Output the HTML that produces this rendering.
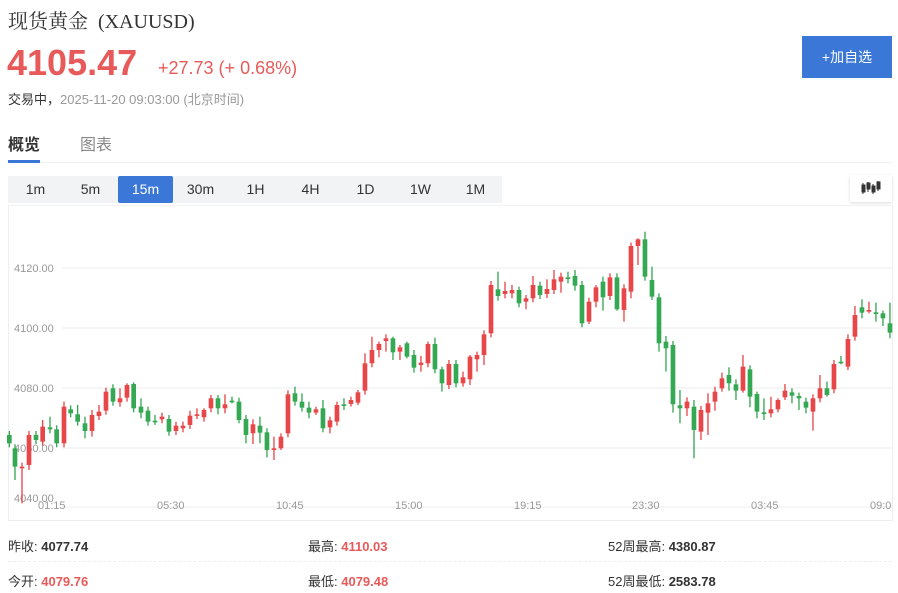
<!DOCTYPE html>
<html><head><meta charset="utf-8"><style>
body{margin:0;width:898px;height:593px;background:#fff;font-family:"Liberation Sans","Noto Sans CJK SC",sans-serif;position:relative;overflow:hidden}
.a{position:absolute;white-space:nowrap}
.tab{position:absolute;top:176px;height:27px;line-height:27px;font-size:14px;color:#333;text-align:center;width:55px}
</style></head><body>
<div class="a" style="left:8px;top:5px;font-size:20px;color:#333;font-family:'Liberation Serif','Noto Serif CJK SC',serif">现货黄金 &nbsp;(XAUUSD)</div>
<div class="a" style="left:7px;top:42px;font-size:36px;font-weight:bold;color:#e85a5a">4105.47</div>
<div class="a" style="left:158px;top:58px;font-size:18px;color:#e85a5a">+27.73 (+ 0.68%)</div>
<div class="a" style="left:8px;top:89px;font-size:13px;color:#333">交易中，<span style="color:#999">2025-11-20 09:03:00 (北京时间)</span></div>
<div class="a" style="left:802px;top:36px;width:90px;height:42px;background:#3a77d6;color:#fff;font-size:14px;line-height:42px;text-align:center">+加自选</div>
<div class="a" style="left:8px;top:131px;font-size:16px;font-weight:bold;color:#333">概览</div>
<div class="a" style="left:80px;top:131px;font-size:16px;color:#888">图表</div>
<div class="a" style="left:8px;top:160px;width:32px;height:3px;background:#3a77d6"></div>
<div class="a" style="left:40px;top:162px;width:852px;height:1px;background:#f0f0f0"></div>
<div class="a" style="left:8px;top:176px;width:494px;height:27px;background:#f2f3f5"></div>
<div class="tab" style="left:8px">1m</div><div class="tab" style="left:63px">5m</div>
<div class="tab" style="left:118px;background:#3a77d6;color:#fff;border-radius:2px">15m</div>
<div class="tab" style="left:173px">30m</div><div class="tab" style="left:228px">1H</div><div class="tab" style="left:283px">4H</div><div class="tab" style="left:338px">1D</div><div class="tab" style="left:393px">1W</div><div class="tab" style="left:448px">1M</div>
<div class="a" style="left:850px;top:175px;width:42px;height:27px;box-shadow:0 1px 3px rgba(0,0,0,.15);background:#fff"></div>
<svg class="a" style="left:860px;top:180px" width="22" height="16"><g fill="#333" stroke="#333"><line x1="3" y1="3" x2="3" y2="14"/><rect x="2" y="5" width="3" height="7"/><line x1="8" y1="2" x2="8" y2="12"/><rect x="7" y="3" width="3" height="6"/><line x1="13" y1="4" x2="13" y2="14"/><rect x="12" y="6" width="3" height="6"/><line x1="18" y1="1" x2="18" y2="11"/><rect x="17" y="2" width="3" height="7"/></g></svg>
<div class="a" style="left:8px;top:205px;width:883px;height:314px;border:1px solid #eee;border-top:1px solid #f2f2f2"></div>
<svg class="a" style="left:0;top:0" width="898" height="593" id="c">
<g stroke="#ececec"><line x1="62" y1="268" x2="892" y2="268"/><line x1="62" y1="328" x2="892" y2="328"/><line x1="62" y1="388" x2="892" y2="388"/><line x1="62" y1="448" x2="892" y2="448"/><line x1="62" y1="507" x2="892" y2="507"/></g>
<g font-size="11" fill="#999" font-family="Liberation Sans,sans-serif"><text x="14" y="272">4120.00</text><text x="14" y="332">4100.00</text><text x="14" y="392">4080.00</text><text x="14" y="452">4060.00</text><text x="14" y="502">4040.00</text>
<text x="38" y="509">01:15</text><text x="157" y="509">05:30</text><text x="276" y="509">10:45</text><text x="395" y="509">15:00</text><text x="514" y="509">19:15</text><text x="632" y="509">23:30</text><text x="751" y="509">03:45</text><text x="870" y="509">09:0</text></g>
<g id="L" transform="translate(0,220) scale(0.3333)"></g>
<g id="R" transform="translate(450,220) scale(0.3333)"></g>
</svg>
<div class="a" style="left:8px;top:536px;font-size:13px;color:#333">昨收: <b>4077.74</b></div>
<div class="a" style="left:308px;top:536px;font-size:13px;color:#333">最高: <b style="color:#e85a5a">4110.03</b></div>
<div class="a" style="left:608px;top:536px;font-size:13px;color:#333">52周最高: <b>4380.87</b></div>
<div class="a" style="left:8px;top:561px;width:884px;border-top:1px dashed #eee"></div>
<div class="a" style="left:8px;top:571px;font-size:13px;color:#333">今开: <b style="color:#e85a5a">4079.76</b></div>
<div class="a" style="left:308px;top:571px;font-size:13px;color:#333">最低: <b style="color:#e85a5a">4079.48</b></div>
<div class="a" style="left:608px;top:571px;font-size:13px;color:#333">52周最低: <b>2583.78</b></div>
<script>
var L=[[28,645,670,'g'],[45,685,740,'g',0,780],[66,740,745,'r',0,850],[87,645,735,'r',0,750],[108,645,660,'g'],[128,620,665,'r',600],[150,622,628,'g',590],[170,628,670,'g'],[192,560,670,'r',545],[212,568,580,'g'],[233,583,605,'g',555],[255,610,633,'g',590,655],[276,585,633,'r',570,650],[297,575,588,'r',555],[318,515,572,'r'],[339,505,545,'g'],[360,535,547,'r',505,560],[381,495,533,'r',490],[401,492,565,'g',487],[423,560,578,'g',535,595],[444,572,605,'g'],[465,602,604,'g',585,615],[486,590,598,'r',578],[507,597,635,'g'],[528,617,633,'r'],[549,617,625,'r'],[570,587,615,'r',572],[591,583,585,'r',565],[612,570,592,'r',565,605],[633,535,565,'r',525],[654,535,565,'g',525,583],[675,553,565,'r',523,580],[696,542,545,'g',530,550],[717,545,600,'g',0,610],[738,597,645,'g',0,670],[759,613,640,'r',598,672],[780,617,638,'g',590,670],[801,637,690,'g',0,712],[822,685,690,'r',650,720],[843,650,685,'r',640,690],[864,523,640,'r'],[885,520,545,'g',500],[906,545,563,'g',520,575],[927,563,578,'g',545,595],[948,568,578,'r',560,585],[969,565,625,'g',540],[990,601,622,'r',590,640],[1011,555,605,'r',545],[1032,553,555,'g',535,570],[1053,540,552,'r',530,560],[1074,517,548,'r',510,555],[1095,430,512,'r',400],[1116,390,430,'r',350],[1137,372,390,'r',365,412],[1158,355,363,'r',343,395],[1179,355,397,'g',350,420],[1200,382,395,'r',375,420],[1221,370,410,'g',365,415],[1242,405,443,'g',390,458],[1263,428,435,'r',408,455],[1284,372,430,'r',365],[1305,372,448,'g',353],[1326,448,490,'g',440,515],[1347,432,495,'r']];
var R=[[18,432,490,'g'],[39,472,490,'r',455,500],[60,410,478,'r',405,495],[81,405,418,'r',395,455],[102,343,405,'r',0,435],[123,195,340,'r'],[144,208,228,'g',155,242],[165,213,222,'r',185,235],[186,210,220,'r',195,235],[207,210,250,'g',200,262],[228,235,245,'r',225,268],[249,195,235,'r',168],[270,197,225,'g'],[291,207,222,'r',178],[312,178,210,'r',150],[333,170,185,'r',0,218],[354,172,174,'g',155,190],[375,168,197,'g',150,212],[396,195,310,'g'],[417,245,305,'r',0,312],[438,202,245,'r',195,262],[459,185,232,'g',170,272],[480,172,228,'r',160],[501,172,268,'g',160,272],[522,205,270,'r',0,305],[543,78,215,'r',68,235],[564,58,78,'r',55,135],[585,58,170,'g',35],[606,180,230,'g',140,240],[627,232,370,'g',0,395],[648,365,385,'g',348,455],[669,375,553,'g',0,578],[690,556,565,'g',510,610],[711,545,565,'r',532,588],[732,560,630,'g',540,715],[753,570,635,'r',0,660],[774,550,578,'r',520,645],[795,515,545,'r',500,572],[816,475,505,'r',458,515],[837,465,490,'g',442,512],[858,493,512,'g',478,540],[879,440,512,'r',405,518],[900,448,530,'g',0,562],[921,522,575,'g',515,595],[942,577,579,'g',535,600],[963,568,580,'r',530],[984,540,568,'r',535,577],[1005,512,532,'r',492,540],[1026,517,527,'g',505,550],[1047,528,535,'g',518,570],[1068,545,563,'g',0,580],[1089,535,575,'r',0,632],[1110,505,535,'r',465],[1131,505,525,'g',485,530],[1152,432,508,'r',420],[1173,425,430,'g',408,433],[1194,357,440,'r',343,450],[1215,285,350,'r',258],[1236,262,278,'g',238,295],[1257,270,275,'r',245,280],[1278,277,279,'g',248,305],[1299,280,295,'g',272,318],[1320,310,338,'g',248,355]];
function draw(id,d){var s='';d.forEach(function(c){var col=c[3]=='r'?'#e8474a':'#35a853';var wt=c[4]||c[1]-12,wb=c[5]||c[2]+12;var h=Math.max(c[2]-c[1],5);
s+='<line x1="'+c[0]+'" x2="'+c[0]+'" y1="'+wt+'" y2="'+wb+'" stroke="'+col+'" stroke-width="4"/><rect x="'+(c[0]-7)+'" y="'+c[1]+'" width="14" height="'+h+'" fill="'+col+'"/>';});document.getElementById(id).innerHTML=s;}
draw('L',L);draw('R',R);
</script>
</body></html>
